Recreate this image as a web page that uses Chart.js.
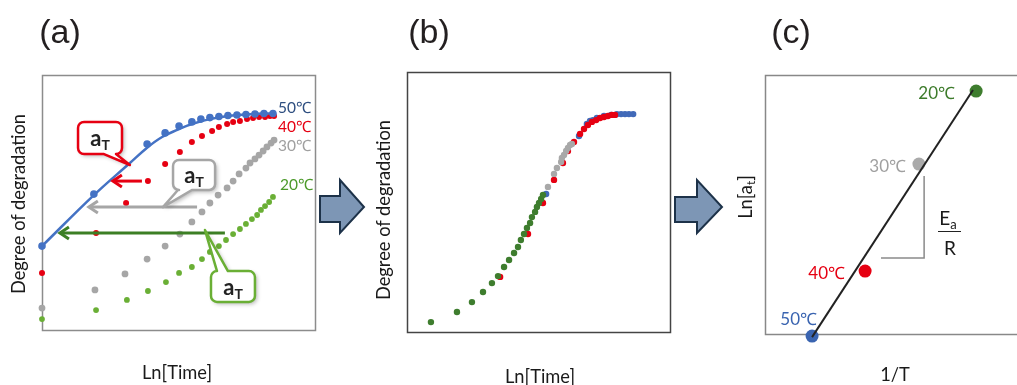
<!DOCTYPE html>
<html>
<head>
<meta charset="utf-8">
<script src="https://cdn.jsdelivr.net/npm/chart.js@4.4.0/dist/chart.umd.min.js"></script>
<style>
body{margin:0;background:#fff;overflow:hidden;}
#wrap{position:relative;width:1017px;height:385px;overflow:hidden;font-family:Lato,'Open Sans',sans-serif;color:#1a1a1a;}
canvas{position:absolute;top:0;}
.t{position:absolute;white-space:nowrap;transform:translate(-50%,-50%);line-height:1;}
.rot{transform:translate(-50%,-50%) rotate(-90deg);}
.tl{position:absolute;white-space:nowrap;transform:translateY(-50%);line-height:1;}
.tr{position:absolute;white-space:nowrap;transform:translate(-100%,-50%);line-height:1;}
.panel{font-family:'Liberation Sans',Arial,sans-serif;font-size:34px;color:#231f20;}
.ax{font-size:18.3px;}
.tmp{font-size:15.5px;}
.tmpc{font-size:17px;}
.at{font-weight:bold;font-size:22px;color:#222;}
.at sub{font-size:14px;vertical-align:-0.3em;line-height:0;}
sub{line-height:0;}
</style>
</head>
<body>
<div id="wrap">
<canvas id="chartA" width="330" height="385" style="left:0px"></canvas>
<canvas id="chartB" width="300" height="385" style="left:390px"></canvas>
<canvas id="chartC" width="290" height="385" style="left:750px"></canvas>

<svg width="1017" height="385" style="position:absolute;left:0;top:0;pointer-events:none">
  <polygon points="320,196 340,196 340,180 364,207 340,233 340,222 320,222" fill="#7d96b5" stroke="#1d3249" stroke-width="2"/>
  <polygon points="675,197 697,197 697,180 722,207 697,233 697,222 675,222" fill="#7d96b5" stroke="#1d3249" stroke-width="2"/>
</svg>

<div class="t panel" style="left:60px;top:31px">(a)</div>
<div class="t panel" style="left:429px;top:31px">(b)</div>
<div class="t panel" style="left:791px;top:31px">(c)</div>

<div class="t rot ax" style="left:18px;top:204px">Degree of degradation</div>
<div class="t rot ax" style="left:383px;top:210px">Degree of degradation</div>
<div class="t rot ax" style="left:745px;top:197px">Ln[a<sub style="font-size:12px;vertical-align:-0.3em">t</sub>]</div>
<div class="t ax" style="left:177px;top:372px">Ln[Time]</div>
<div class="t ax" style="left:540px;top:376px">Ln[Time]</div>
<div class="t ax" style="left:895px;top:374px">1/T</div>

<div class="tl tmp" style="left:278px;top:108px;color:#2f4f80">50℃</div>
<div class="tl tmp" style="left:278px;top:127px;color:#e60012">40℃</div>
<div class="tl tmp" style="left:278px;top:146px;color:#a0a0a0">30℃</div>
<div class="tl tmp" style="left:280px;top:185px;color:#4c9a2a">20℃</div>

<div class="t at" style="left:100px;top:138px">a<sub>T</sub></div>
<div class="t at" style="left:194px;top:175px">a<sub>T</sub></div>
<div class="t at" style="left:233px;top:287px">a<sub>T</sub></div>

<div class="tr tmpc" style="left:955px;top:92px;color:#3d7b2b">20℃</div>
<div class="tr tmpc" style="left:906px;top:165px;color:#a0a0a0">30℃</div>
<div class="tr tmpc" style="left:845px;top:272px;color:#e60012">40℃</div>
<div class="tr tmpc" style="left:817px;top:318px;color:#3a64b0">50℃</div>

<div class="t" style="left:948px;top:217px;font-size:19px">E<sub style="font-size:13px;vertical-align:-0.35em">a</sub></div>
<div style="position:absolute;left:938px;top:231px;width:23px;border-top:1.5px solid #222"></div>
<div class="t" style="left:950px;top:247px;font-size:19px">R</div>
</div>

<script>
// (a) degree of degradation vs ln(time), four temperatures (axes in % of panel range)
const a50x = [0, 19.0, 38.5, 45.1, 50.2, 54.9, 58.2, 61.5, 64.8, 68.1, 71.4, 74.7, 78.0, 81.3, 84.6];
const a50y = [32.9, 53.3, 72.9, 77.3, 80.0, 81.6, 82.7, 83.3, 83.7, 84.1, 84.3, 84.5, 84.7, 84.9, 84.9];
const fit50x = [0, 19.0, 32.2, 38.5, 44.0, 49.8, 54.9, 61.5, 68.9, 76.2, 85.3];
const fit50y = [32.9, 52.9, 65.5, 71.5, 75.7, 78.6, 80.8, 82.7, 84.0, 84.6, 85.0];
const a40x = [0, 19.8, 30.8, 38.8, 45.1, 50.5, 54.9, 58.6, 62.3, 64.8, 67.8, 70.0, 72.5, 75.1, 77.3, 79.5, 81.7, 83.5, 85.0];
const a40y = [22.4, 38.0, 49.8, 58.4, 65.1, 69.8, 73.7, 76.1, 78.0, 79.6, 80.8, 81.6, 82.0, 82.7, 83.1, 83.5, 83.5, 83.9, 83.9];
const a30x = [0, 19.4, 30.4, 38.5, 45.1, 50.5, 54.9, 58.6, 61.5, 64.5, 67.8, 70.0, 72.2, 74.7, 76.2, 78.0, 79.5, 81.0, 82.4, 83.9, 85.0];
const a30y = [8.6, 15.7, 22.0, 27.8, 32.9, 37.6, 42.4, 46.3, 49.8, 52.9, 55.7, 58.4, 61.2, 63.5, 65.5, 67.1, 68.6, 70.2, 71.8, 73.3, 74.5];
const a20x = [0, 19.8, 31.1, 38.8, 45.4, 50.2, 54.9, 58.6, 61.5, 64.8, 67.4, 70.0, 72.5, 74.7, 76.9, 78.8, 80.2, 81.7, 83.2, 84.6];
const a20y = [4.3, 7.8, 11.8, 15.3, 18.8, 22.4, 24.7, 27.8, 30.6, 32.9, 35.3, 37.6, 39.6, 41.6, 43.5, 45.1, 47.1, 48.6, 50.2, 52.2];

// shift factor arrows (a)
const shiftY = [58.4, 48.2, 38.0];
const shiftFrom = [36.6, 56.8, 67.0];
const shiftTo = [25.6, 16.8, 6.2];
const calloutBox = [[13.2, 81.6, 29.3, 69.0], [48.0, 66.7, 63.4, 54.9], [61.9, 23.1, 78.0, 11.0]];
const calloutSide = ['bottom', 'bottom', 'top'];
const calloutBase = [[22.7, 27.1], [49.8, 54.9], [64.1, 68.1]];
const calloutTip = [[32.2, 64.7], [44.3, 48.2], [59.7, 39.2]];

// (b) master curve
const b50x = [52.9, 65.4, 68.4, 69.6, 70.7, 72.2, 74.9, 77.6, 79.8, 81.4, 82.9, 84.4, 86.0];
const b50y = [53.1, 75.4, 80.0, 81.2, 81.5, 82.3, 83.1, 83.5, 83.8, 83.8, 83.8, 83.8, 83.8];
const b40x = [35.4, 46.0, 51.7, 55.9, 59.3, 61.2, 63.5, 65.8, 67.3, 68.8, 70.3, 71.9, 73.4, 74.9, 76.4, 77.9, 79.1];
const b40y = [21.2, 37.7, 49.6, 58.5, 65.0, 69.6, 73.1, 76.2, 78.1, 79.6, 80.8, 81.5, 82.3, 82.7, 83.1, 83.5, 83.5];
const b30x = [53.6, 55.9, 57.0, 58.6, 58.9, 59.7, 60.5, 61.2, 62.0, 62.7];
const b30y = [55.8, 60.8, 63.1, 65.4, 66.9, 68.1, 69.6, 70.8, 71.9, 72.3];
const b20x = [9.1, 19.0, 24.7, 28.9, 32.3, 34.6, 36.9, 38.8, 40.7, 42.2, 43.3, 44.5, 45.6, 46.8, 47.5, 48.7, 49.4, 50.2, 51.0, 51.7];
const b20y = [3.8, 7.7, 11.5, 15.4, 18.8, 21.5, 25.0, 27.7, 30.4, 32.7, 35.4, 37.7, 40.0, 41.9, 44.2, 46.2, 48.1, 49.6, 51.2, 52.7];

// (c) Arrhenius plot: 50, 40, 30, 20 C
const invT = [18.1, 38.5, 59.2, 81.2];
const lnAt = [-0.8, 24.3, 65.6, 93.8];
const fitCx = [18.1, 80.0];
const fitCy = [-1.2, 94.2];
const triX = [61.2, 61.2, 44.6];
const triY = [61.0, 29.3, 29.3];

const blue = '#4472c4', red = '#e60012', gray = '#a6a6a6', greenA = '#6aaf35', greenD = '#3e7d2e';

function pts(xs, ys) {
    return xs.map((v, i) => ({x: v, y: ys[i]}));
}
function dots(xs, ys, color, r, order) {
    return {data: pts(xs, ys), pointRadius: r, pointBackgroundColor: color, pointBorderWidth: 0,
        pointBorderColor: color, showLine: false, clip: false, order: order};
}
function line(xs, ys, color, w, order, smooth) {
    return {data: pts(xs, ys), showLine: true, borderColor: color, borderWidth: w, pointRadius: 0,
        clip: false, order: order, tension: smooth ? 0.4 : 0};
}

const boxPlugin = {
    id: 'box',
    beforeDatasetsDraw(chart, args, opts) {
        const {ctx, chartArea: a} = chart;
        ctx.save();
        ctx.strokeStyle = opts.color;
        ctx.lineWidth = opts.width;
        ctx.strokeRect(Math.round(a.left) + 0.5, Math.round(a.top) + 0.5, Math.round(a.right - a.left), Math.round(a.bottom - a.top));
        ctx.restore();
    }
};

function calloutPath(ctx, l, t, r, b, rad, side, bx0, bx1, tx, ty) {
    ctx.beginPath();
    ctx.moveTo(l + rad, t);
    if (side === 'top') { ctx.lineTo(bx0, t); ctx.lineTo(tx, ty); ctx.lineTo(bx1, t); }
    ctx.lineTo(r - rad, t); ctx.arcTo(r, t, r, t + rad, rad);
    ctx.lineTo(r, b - rad); ctx.arcTo(r, b, r - rad, b, rad);
    if (side === 'bottom') { ctx.lineTo(bx1, b); ctx.lineTo(tx, ty); ctx.lineTo(bx0, b); }
    ctx.lineTo(l + rad, b); ctx.arcTo(l, b, l, b - rad, rad);
    ctx.lineTo(l, t + rad); ctx.arcTo(l, t, l + rad, t, rad);
    ctx.closePath();
}

const shiftPlugin = {
    id: 'shifts',
    afterDatasetsDraw(chart) {
        const {ctx, scales: {x, y}} = chart;
        const arrowColors = [red, gray, '#3c7f24'];
        const boxColors = [red, gray, greenA];
        ctx.save();
        ctx.lineWidth = 3;
        for (let i = 0; i < shiftY.length; i++) {
            const py = y.getPixelForValue(shiftY[i]);
            const x0 = x.getPixelForValue(shiftFrom[i]);
            const x1 = x.getPixelForValue(shiftTo[i]);
            ctx.strokeStyle = arrowColors[i];
            ctx.beginPath(); ctx.moveTo(x0, py); ctx.lineTo(x1 + 1, py); ctx.stroke();
            ctx.beginPath(); ctx.moveTo(x1 + 10, py - 6); ctx.lineTo(x1 + 1, py); ctx.lineTo(x1 + 10, py + 6); ctx.stroke();
        }
        //callouts
        for (let i = 0; i < calloutBox.length; i++) {
            const bx = calloutBox[i];
            const l = x.getPixelForValue(bx[0]), t = y.getPixelForValue(bx[1]);
            const r = x.getPixelForValue(bx[2]), b = y.getPixelForValue(bx[3]);
            const b0 = x.getPixelForValue(calloutBase[i][0]), b1 = x.getPixelForValue(calloutBase[i][1]);
            const tx = x.getPixelForValue(calloutTip[i][0]), ty = y.getPixelForValue(calloutTip[i][1]);
            calloutPath(ctx, l, t, r, b, 6, calloutSide[i], b0, b1, tx, ty);
            ctx.shadowColor = 'rgba(0,0,0,0.3)';
            ctx.shadowBlur = 4; ctx.shadowOffsetX = 2; ctx.shadowOffsetY = 2;
            ctx.fillStyle = '#fff';
            ctx.fill();
            ctx.shadowColor = 'transparent';
            ctx.strokeStyle = boxColors[i];
            ctx.lineWidth = 2.5;
            ctx.lineJoin = 'round';
            ctx.stroke();
        }
        ctx.restore();
    }
};

function baseOptions(pad, boxColor) {
    return {
        responsive: false,
        animation: false,
        events: [],
        layout: {padding: pad},
        scales: {
            x: {type: 'linear', min: 0, max: 100, display: false},
            y: {type: 'linear', min: 0, max: 100, display: false}
        },
        plugins: {legend: {display: false}, tooltip: {enabled: false}, box: {color: boxColor, width: 1.5}}
    };
}

new Chart(document.getElementById('chartA'), {
    type: 'scatter',
    data: {datasets: [
        line(fit50x, fit50y, blue, 2.5, 0, true),
        dots(a50x, a50y, blue, 3.8, 1),
        dots(a40x, a40y, red, 3, 2),
        dots(a30x, a30y, gray, 3.4, 3),
        dots(a20x, a20y, greenA, 2.9, 4)
    ]},
    options: baseOptions({left: 42, top: 75, right: 15, bottom: 55}, '#8c8c8c'),
    plugins: [boxPlugin, shiftPlugin]
});

new Chart(document.getElementById('chartB'), {
    type: 'scatter',
    data: {datasets: [
        dots(b20x, b20y, greenD, 3.2, 0),
        dots(b30x, b30y, '#a8a8a8', 3.2, 1),
        dots(b40x, b40y, red, 3.2, 2),
        dots(b50x, b50y, '#4169b8', 3.2, 3)
    ]},
    options: baseOptions({left: 17, top: 72, right: 20, bottom: 53}, '#444'),
    plugins: [boxPlugin]
});

new Chart(document.getElementById('chartC'), {
    type: 'scatter',
    data: {datasets: [
        line(fitCx, fitCy, '#222', 2, 0, false),
        line(triX, triY, '#8a8a8a', 1.5, 2, false),
        {data: pts(invT, lnAt), pointRadius: 6.5, pointBorderWidth: 0,
            pointBackgroundColor: ['#3a64b0', red, '#aaaaaa', greenD], showLine: false, clip: false, order: 1}
    ]},
    options: baseOptions({left: 15, top: 75, right: 15, bottom: 51}, '#888'),
    plugins: [boxPlugin]
});
</script>
</body>
</html>
